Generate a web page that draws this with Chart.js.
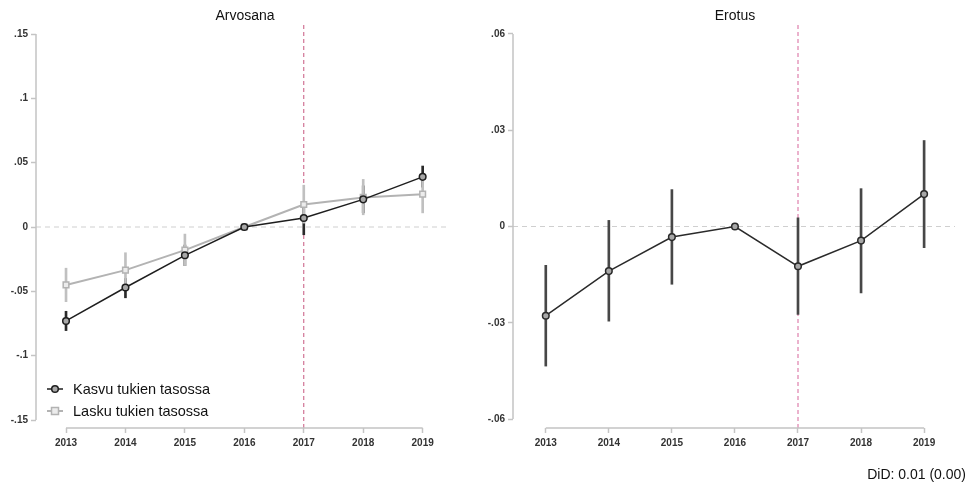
<!DOCTYPE html>
<html>
<head>
<meta charset="utf-8">
<script src="https://cdn.jsdelivr.net/npm/chart.js@4/dist/chart.umd.min.js"></script>
<style>
  body { margin: 0; background: #fff; font-family: 'Liberation Sans', Arial, sans-serif; }
  .panel { position: absolute; top: 0; height: 488px; }
  .title { position: absolute; top: 7px; font-size: 14px; color: #111; transform: translateX(-50%); white-space: nowrap; }
  #did { position: absolute; right: 5px; top: 466px; font-size: 14px; color: #111; }
</style>
</head>
<body>
<div class="panel" style="left:0;width:485px"><canvas id="left"></canvas></div>
<div class="panel" style="left:485px;width:486px"><canvas id="right"></canvas></div>
<div class="title" style="left:245px">Arvosana</div>
<div class="title" style="left:735px">Erotus</div>
<div id="did">DiD: 0.01 (0.00)</div>
<script>
const years = [2013, 2014, 2015, 2016, 2017, 2018, 2019];

// Arvosana: two groups with confidence intervals
const kasvu   = [-0.073, -0.047, -0.022, 0, 0.007, 0.0215, 0.039];
const kasvuLo = [-0.0805, -0.055, -0.030, null, -0.006, 0.011, 0.031];
const kasvuHi = [-0.0655, -0.040, -0.014, null, 0.020, 0.032, 0.0474];
const lasku   = [-0.045, -0.0335, -0.018, 0, 0.0175, 0.023, 0.0255];
const laskuLo = [-0.058, -0.047, -0.030, null, 0.003, 0.0095, 0.011];
const laskuHi = [-0.032, -0.020, -0.0055, null, 0.0325, 0.037, 0.040];

// Erotus: difference with confidence interval
const erotus   = [-0.0278, -0.0139, -0.0033, 0, -0.0124, -0.0044, 0.0101];
const erotusLo = [-0.0435, -0.0295, -0.018, null, -0.0274, -0.0207, -0.0066];
const erotusHi = [-0.0121, 0.0019, 0.0115, null, 0.0027, 0.0118, 0.0268];

const leftTicks  = [-0.15, -0.1, -0.05, 0, 0.05, 0.1, 0.15];
const leftLabels = ['-.15', '-.1', '-.05', '0', '.05', '.1', '.15'];
const rightTicks  = [-0.06, -0.03, 0, 0.03, 0.06];
const rightLabels = ['-.06', '-.03', '0', '.03', '.06'];

const treatYear = 2017;
const FONT = "'Liberation Sans', Arial, sans-serif";

function points(vals) {
  return years.map((y, i) => ({ x: y, y: vals[i] }));
}
function ranges(lo, hi) {
  return years.map((y, i) => ({ x: y, y: lo[i] === null ? null : [lo[i], hi[i]] }));
}

// reference lines, Stata-like detached axes and in-plot legend
const decor = {
  id: 'decor',
  beforeDatasetsDraw(chart, args, opts) {
    const { ctx, chartArea: a, scales: { x, y } } = chart;
    ctx.save();
    // zero line
    ctx.strokeStyle = '#cfcfcf';
    ctx.lineWidth = 1;
    ctx.setLineDash([5, 4]);
    const y0 = y.getPixelForValue(0);
    ctx.beginPath(); ctx.moveTo(a.left, y0); ctx.lineTo(a.right, y0); ctx.stroke();
    // treatment year line
    ctx.strokeStyle = opts.vColor;
    ctx.lineWidth = opts.vWidth;
    ctx.setLineDash([4, 3]);
    const xv = x.getPixelForValue(treatYear);
    ctx.beginPath(); ctx.moveTo(xv, a.top); ctx.lineTo(xv, a.bottom); ctx.stroke();
    // axes
    ctx.setLineDash([]);
    ctx.strokeStyle = '#c4c4c4';
    ctx.lineWidth = 1.5;
    const t = opts.ticks;
    ctx.beginPath();
    ctx.moveTo(a.left, y.getPixelForValue(t[0]));
    ctx.lineTo(a.left, y.getPixelForValue(t[t.length - 1]));
    ctx.moveTo(x.getPixelForValue(years[0]), a.bottom);
    ctx.lineTo(x.getPixelForValue(years[years.length - 1]), a.bottom);
    ctx.stroke();
    ctx.restore();
  },
  afterDatasetsDraw(chart, args, opts) {
    if (!opts.legend) return;
    const { ctx } = chart;
    ctx.save();
    const items = chart.data.datasets
      .filter(ds => ds.type === 'line')
      .sort((a, b) => a.legendRow - b.legendRow);
    items.forEach((ds, row) => {
      const cy = 389 + row * 22;
      ctx.strokeStyle = ds.borderColor;
      ctx.lineWidth = ds.borderWidth;
      ctx.beginPath(); ctx.moveTo(47, cy); ctx.lineTo(63, cy); ctx.stroke();
      ctx.fillStyle = ds.pointBackgroundColor;
      ctx.strokeStyle = ds.pointBorderColor;
      ctx.lineWidth = ds.pointBorderWidth;
      ctx.beginPath();
      if (ds.pointStyle === 'rect') ctx.rect(51.5, cy - 3.5, 7, 7);
      else ctx.arc(55, cy, 3.3, 0, Math.PI * 2);
      ctx.fill(); ctx.stroke();
      ctx.fillStyle = '#111';
      ctx.font = '14.5px ' + FONT;
      ctx.textBaseline = 'middle';
      ctx.fillText(ds.label, 73, cy + 1);
    });
    ctx.restore();
  }
};

function options(p) {
  return {
    responsive: true,
    maintainAspectRatio: false,
    animation: false,
    layout: { padding: { top: 25, right: p.padRight, bottom: 30, left: 0 } },
    plugins: {
      legend: { display: false },
      tooltip: { enabled: false },
      title: { display: false },
      decor: { vColor: p.vColor, vWidth: p.vWidth, ticks: p.ticks, legend: p.legend }
    },
    scales: {
      x: {
        type: 'linear',
        min: p.xMin, max: p.xMax,
        offset: false,
        border: { display: false },
        grid: { offset: false, drawOnChartArea: false, tickLength: 5, tickColor: '#c4c4c4', tickWidth: 1.5 },
        afterBuildTicks: s => { s.ticks = years.map(v => ({ value: v })); },
        afterFit: s => { s.height = 30; },
        ticks: {
          autoSkip: false, maxRotation: 0, padding: 4, color: '#333',
          font: { family: FONT, size: 10, weight: 'bold' },
          callback: v => String(v)
        }
      },
      y: {
        type: 'linear',
        min: p.yMin, max: p.yMax,
        border: { display: false },
        grid: { offset: false, drawOnChartArea: false, tickLength: 5, tickColor: '#c4c4c4', tickWidth: 1.5 },
        afterBuildTicks: s => { s.ticks = p.ticks.map(v => ({ value: v })); },
        afterFit: s => { s.width = p.yWidth; },
        ticks: {
          padding: 3, color: '#333',
          font: { family: FONT, size: 10, weight: 'bold' },
          callback: (v, i) => p.labels[i]
        }
      }
    }
  };
}

function ciBars(lo, hi, color) {
  return {
    type: 'bar',
    data: ranges(lo, hi),
    backgroundColor: color,
    borderWidth: 0,
    barThickness: 2,
    grouped: false,
    order: 3
  };
}

new Chart(document.getElementById('left'), {
  type: 'line',
  data: {
    datasets: [
      ciBars(laskuLo, laskuHi, '#c0c0c0'),
      ciBars(kasvuLo, kasvuHi, '#2a2a2a'),
      {
        type: 'line', label: 'Lasku tukien tasossa', data: points(lasku), legendRow: 1,
        borderColor: '#b3b3b3', borderWidth: 2,
        pointStyle: 'rect', pointRadius: 4, pointBorderWidth: 1.5,
        pointBorderColor: '#b3b3b3', pointBackgroundColor: '#ececec', order: 2
      },
      {
        type: 'line', label: 'Kasvu tukien tasossa', data: points(kasvu), legendRow: 0,
        borderColor: '#1e1e1e', borderWidth: 1.5,
        pointStyle: 'circle', pointRadius: 3.3, pointBorderWidth: 1.5,
        pointBorderColor: '#1e1e1e', pointBackgroundColor: '#a8a8a8', order: 1
      }
    ]
  },
  options: options({
    padRight: 35, xMin: 2012.495, xMax: 2019.46,
    yMin: -0.1562, yMax: 0.157, yWidth: 36,
    ticks: leftTicks, labels: leftLabels,
    vColor: '#c8587f', vWidth: 1, legend: true
  }),
  plugins: [decor]
});

new Chart(document.getElementById('right'), {
  type: 'line',
  data: {
    datasets: [
      ciBars(erotusLo, erotusHi, '#474747'),
      {
        type: 'line', label: 'Erotus', data: points(erotus),
        borderColor: '#2a2a2a', borderWidth: 1.5,
        pointStyle: 'circle', pointRadius: 3.3, pointBorderWidth: 1.5,
        pointBorderColor: '#2a2a2a', pointBackgroundColor: '#a8a8a8', order: 1
      }
    ]
  },
  options: options({
    padRight: 16, xMin: 2012.48, xMax: 2019.49,
    yMin: -0.0628, yMax: 0.0628, yWidth: 28,
    ticks: rightTicks, labels: rightLabels,
    vColor: '#ebb2cd', vWidth: 2, legend: false
  }),
  plugins: [decor]
});
</script>
</body>
</html>
